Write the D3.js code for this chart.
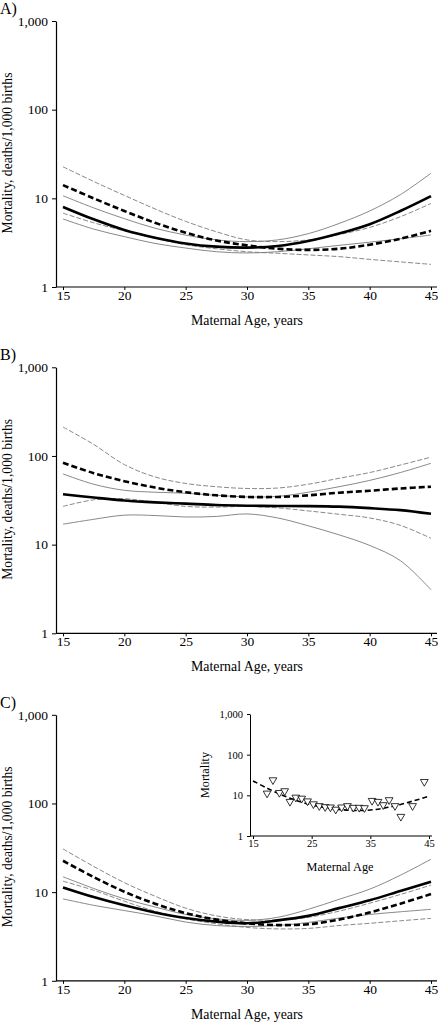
<!DOCTYPE html>
<html>
<head>
<meta charset="utf-8">
<script src="https://cdn.jsdelivr.net/npm/d3@7"></script>
<style>
  html, body { margin: 0; padding: 0; background: #fff; }
  svg { display: block; font-family: "Liberation Serif", "Times New Roman", serif; }
</style>
</head>
<body>
<svg id="chart" width="438" height="1023"></svg>
<script>
// ---------- DATA ----------
const ages = [15, 17.5, 20, 22.5, 25, 27.5, 30, 32.5, 35, 37.5, 40, 42.5, 45];
const xTicks = [15, 20, 25, 30, 35, 40, 45];
const insetXTicks = [15, 25, 35, 45];
const yTicks = [1, 10, 100, 1000];
const yTickLabels = ["1", "10", "100", "1,000"];
const panelLabels = ["A)", "B)", "C)"];
const xTitle = "Maternal Age, years";
const yTitle = "Mortality, deaths/1,000 births";
const insetXTitle = "Maternal Age";
const insetYTitle = "Mortality";

// Panel A
const aSolidMean  = [8.0, 5.8, 4.4, 3.6, 3.1, 2.85, 2.78, 2.9, 3.3, 4.0, 5.1, 7.2, 10.6];
const aSolidUpper = [10.7, 7.8, 5.9, 4.6, 3.85, 3.4, 3.25, 3.4, 4.0, 5.2, 7.2, 11.0, 19.2];
const aSolidLower = [5.85, 4.5, 3.7, 3.1, 2.75, 2.5, 2.42, 2.5, 2.7, 2.95, 3.2, 3.5, 3.86];
const aDashMean   = [14.1, 10.0, 7.2, 5.3, 4.1, 3.35, 2.95, 2.7, 2.62, 2.7, 3.0, 3.5, 4.3];
const aDashUpper  = [22.7, 15.5, 10.8, 7.6, 5.5, 4.2, 3.4, 3.25, 3.4, 3.9, 4.7, 6.2, 8.75];
const aDashLower  = [6.8, 5.3, 4.3, 3.55, 3.0, 2.7, 2.5, 2.4, 2.3, 2.2, 2.05, 1.92, 1.8];

// Panel B
const bSolidMean  = [37, 34, 31.5, 30, 29, 28, 27.5, 27.3, 27.2, 26.8, 25.8, 24.5, 22.3];
const bSolidUpper = [62.7, 48, 41, 39, 38, 36, 34.5, 35, 39, 45, 53, 65, 82.7];
const bSolidLower = [17, 19.3, 21.5, 21.3, 20.5, 20.8, 22.2, 20, 16.3, 12.9, 9.8, 6.6, 3.1];
const bDashMean   = [84, 64, 52, 44, 39, 36, 34.5, 34.5, 36, 38.5, 40.5, 43, 45];
const bDashUpper  = [212, 135, 80, 58, 49, 45, 43, 43.5, 48, 56, 65, 79, 97];
const bDashLower  = [27, 32, 33, 30, 27, 26.5, 27, 26, 24, 22, 20, 16.5, 11.8];

// Panel C
const cSolidMean  = [11.3, 8.8, 7.1, 5.9, 5.1, 4.65, 4.45, 4.8, 5.4, 6.6, 8.1, 10.3, 13.1];
const cSolidUpper = [14.9, 11, 8.4, 6.8, 5.6, 5.0, 4.8, 5.2, 6.4, 8.3, 10.8, 15.5, 23.5];
const cSolidLower = [8.4, 7.1, 6.2, 5.4, 4.6, 4.2, 4.1, 4.2, 4.55, 5.1, 5.6, 6.0, 6.4];
const cDashMean   = [22.6, 14.8, 10.1, 7.4, 5.8, 4.9, 4.45, 4.25, 4.35, 4.9, 5.9, 7.4, 9.5];
const cDashUpper  = [30.7, 19.5, 12.8, 9.0, 6.6, 5.4, 4.9, 4.85, 5.2, 6.1, 7.5, 9.4, 12.0];
const cDashLower  = [13.3, 10.5, 7.9, 6.1, 5.0, 4.4, 4.0, 3.85, 3.9, 4.2, 4.45, 4.75, 5.06];

// Panel C inset: observed points
const insetAges = [17.4, 18.4, 19.5, 20.4, 21.3, 22.3, 23.3, 24.3, 25.3, 26.3, 27.3, 28.2, 29.1,
                   30.1, 31.1, 32.1, 33.1, 34.0, 35.3, 36.3, 37.2, 38.2, 39.2, 40.2, 42.2, 44.2];
const insetValues = [11.2, 23.8, 11.6, 12.8, 7.0, 8.9, 8.4, 7.2, 6.1, 5.5, 5.2, 5.1, 4.5,
                     5.1, 5.5, 5.0, 5.0, 4.9, 7.4, 7.0, 5.8, 7.7, 5.5, 3.0, 5.5, 21.6];

// ---------- DRAW ----------
const svg = d3.select("#chart");
const fmt = (d) => yTickLabels[yTicks.indexOf(d)];
const THIN = "#7a7a7a";

// scale a text's font size so its natural length equals target
function fitText(sel, target, base) {
  sel.attr("font-size", base);
  const len = sel.node().getComputedTextLength();
  if (len > 0) sel.attr("font-size", (base * target / len).toFixed(2));
}

const panels = [
  { top: 21,    series: [aSolidUpper, aSolidLower, aDashUpper, aDashLower, aSolidMean, aDashMean] },
  { top: 367.3, series: [bSolidUpper, bSolidLower, bDashUpper, bDashLower, bSolidMean, bDashMean] },
  { top: 714.8, series: [cSolidUpper, cSolidLower, cDashUpper, cDashLower, cSolidMean, cDashMean] }
];
const styles = [
  { stroke: THIN, width: 0.9, dash: null },
  { stroke: THIN, width: 0.9, dash: null },
  { stroke: THIN, width: 0.9, dash: "5,2" },
  { stroke: THIN, width: 0.9, dash: "5,2" },
  { stroke: "#000", width: 2.6, dash: null },
  { stroke: "#000", width: 2.6, dash: "6,3" }
];

panels.forEach((p, i) => {
  const H = 266;
  const bottom = p.top + H;
  const x = d3.scaleLinear().domain([15, 45]).range([63, 431]);
  const y = d3.scaleLog().domain([1, 1000]).range([bottom, p.top]);
  const g = svg.append("g");

  // panel label
  g.append("text").attr("x", 0).attr("y", p.top - 7)
    .attr("font-size", 16).text(panelLabels[i]);

  // lines
  const line = d3.line().x((d, k) => x(ages[k])).y(d => y(d)).curve(d3.curveCatmullRom.alpha(0.5));
  p.series.forEach((s, k) => {
    const st = styles[k];
    g.append("path").datum(s).attr("d", line)
      .attr("fill", "none").attr("stroke", st.stroke).attr("stroke-width", st.width)
      .attr("stroke-dasharray", st.dash);
  });

  // y axis
  const ya = g.append("g").attr("transform", "translate(56,0)")
    .call(d3.axisLeft(y).tickValues(yTicks).tickFormat(fmt).tickSize(4).tickSizeOuter(0).tickPadding(4));
  ya.select(".domain").attr("stroke-width", 1.2);
  ya.selectAll("text").attr("font-size", 13.5).attr("font-family", "Liberation Serif").attr("fill", "#000");

  // x axis
  const xa = g.append("g").attr("transform", `translate(0,${bottom})`)
    .call(d3.axisBottom(x).tickValues(xTicks).tickSize(3).tickSizeOuter(0));
  xa.select(".domain").remove();
  xa.append("line").attr("x1", 56).attr("x2", 437).attr("y1", 0).attr("y2", 0)
    .attr("stroke", "#000").attr("stroke-width", 1.2);
  xa.selectAll("text").attr("font-size", 13.5).attr("font-family", "Liberation Serif")
    .attr("fill", "#000").attr("y", 13).attr("dy", null);

  // titles
  const xt = g.append("text").attr("x", 247).attr("y", bottom + 38).attr("text-anchor", "middle")
    .text(xTitle);
  fitText(xt, 112, 14);
  const yt = g.append("text").attr("transform", `translate(12,${p.top + H / 2 - 1}) rotate(-90)`)
    .attr("text-anchor", "middle").text(yTitle);
  fitText(yt, 161, 14);
});

// ---------- INSET (panel C) ----------
{
  const ix = d3.scaleLinear().domain([15, 45]).range([253, 429]);
  const iy = d3.scaleLog().domain([1, 1000]).range([836, 714]);
  const g = svg.append("g");

  const line = d3.line().x((d, k) => ix(ages[k])).y(d => iy(d)).curve(d3.curveCatmullRom.alpha(0.5));
  g.append("path").datum(cDashMean).attr("d", line)
    .attr("fill", "none").attr("stroke", "#000").attr("stroke-width", 1.6)
    .attr("stroke-dasharray", "5,3");

  const tri = d3.symbol().type(d3.symbolTriangle).size(26);
  g.selectAll(".pt").data(insetValues).join("path")
    .attr("d", tri)
    .attr("transform", (d, k) => `translate(${ix(insetAges[k])},${iy(d)}) rotate(180)`)
    .attr("fill", "#fff").attr("stroke", "#000").attr("stroke-width", 0.8);

  const ya = g.append("g").attr("transform", "translate(250,0)")
    .call(d3.axisLeft(iy).tickValues(yTicks).tickFormat(fmt).tickSize(3).tickSizeOuter(0).tickPadding(4));
  ya.selectAll("text").attr("font-size", 10.5).attr("font-family", "Liberation Serif").attr("fill", "#000");

  const xa = g.append("g").attr("transform", "translate(0,836)")
    .call(d3.axisBottom(ix).tickValues(insetXTicks).tickSize(3).tickSizeOuter(0));
  xa.select(".domain").remove();
  xa.append("line").attr("x1", 250).attr("x2", 432).attr("stroke", "#000").attr("stroke-width", 1);
  xa.selectAll("text").attr("font-size", 10.5).attr("font-family", "Liberation Serif")
    .attr("fill", "#000").attr("y", 11).attr("dy", null);

  const ixt = g.append("text").attr("x", 340).attr("y", 871).attr("text-anchor", "middle")
    .text(insetXTitle);
  fitText(ixt, 67, 12);
  const iyt = g.append("text").attr("transform", "translate(209,775) rotate(-90)")
    .attr("text-anchor", "middle").text(insetYTitle);
  fitText(iyt, 46, 12);
}
</script>
</body>
</html>
